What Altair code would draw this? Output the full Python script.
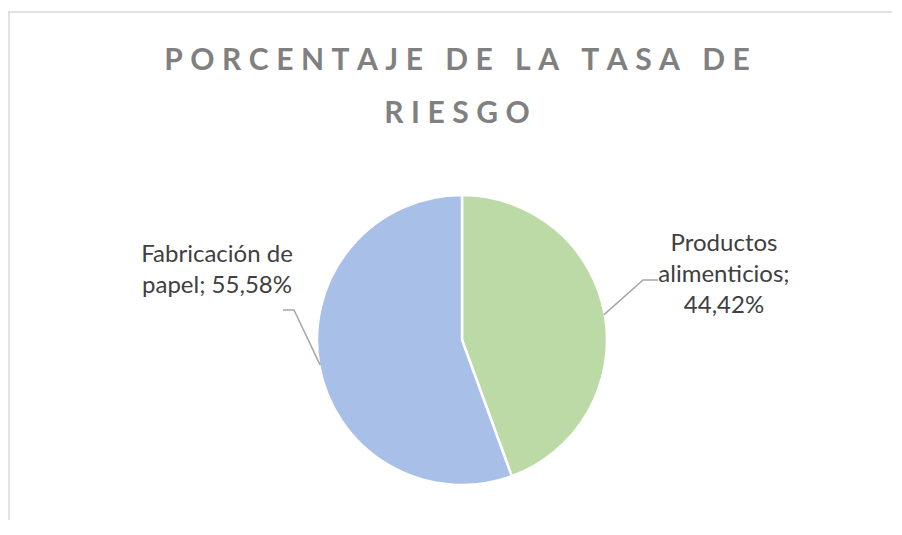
import math
import altair as alt
import pandas as pd

# ---------------- data ----------------
categories = ["Productos alimenticios", "Fabricación de papel"]
values = [44.42, 55.58]
label_wrap = [["Productos", "alimenticios;", "{pct}"], ["Fabricación de", "papel; {pct}"]]
title_lines = ["PORCENTAJE DE LA TASA DE", "RIESGO"]
slice_colors = ["#bbdaa6", "#a8bfe8"]

# ---------------- layout (pixels, plot coords) ----------------
W, H = 884, 512
CX, CY, R = 454, 332, 144
label_x = [716, 209]
label_y0 = [243, 254]
label_lh = 31
elbow = [(635, 272), (286, 302)]
leader_end = [(650, 272), (275, 302)]
title_x = 449
title_y = [62, 115]
SP = "\u2009\u200a\u200a"


def spaced(s):
    return SP.join(list(s))


def pct_text(v):
    return f"{v:.2f}".replace(".", ",") + "%"


# pie table
pie = pd.DataFrame({"cat": categories, "value": values, "order": list(range(len(categories)))})

# leader lines derived from slice mid-angles
total = sum(values)
cum = 0.0
lead_rows, lab_rows = [], []
for i, (c, v) in enumerate(zip(categories, values)):
    mid = (cum + v / 2) / total * 2 * math.pi
    cum += v
    sx, sy = CX + R * math.sin(mid), CY - R * math.cos(mid)
    pts = [(sx, sy), elbow[i], leader_end[i]]
    for k, (px, py) in enumerate(pts):
        lead_rows.append({"cat": c, "k": k, "x": px, "y": py})
    for j, line in enumerate(label_wrap[i]):
        lab_rows.append({"t": line.format(pct=pct_text(v)), "x": label_x[i], "y": label_y0[i] + j * label_lh})

leads = pd.DataFrame(lead_rows)
labs = pd.DataFrame(lab_rows)
titles = pd.DataFrame({"t": [spaced(s) for s in title_lines], "x": [title_x] * 2, "y": title_y})
frame = pd.DataFrame({"k": [0]})

xs = alt.Scale(domain=[0, W], range=[0, W], nice=False, zero=False)
ys = alt.Scale(domain=[0, H], range=[0, H], nice=False, zero=False)

arc = alt.Chart(pie).mark_arc(outerRadius=R + 1, stroke="white", strokeWidth=2.5).encode(
    theta=alt.Theta("value:Q", stack=True),
    color=alt.Color("cat:N", scale=alt.Scale(domain=categories, range=slice_colors), legend=None),
    order=alt.Order("order:Q"),
    x=alt.value(CX),
    y=alt.value(CY),
)

lines = alt.Chart(leads).mark_line(color="#a6a6a6", strokeWidth=1.5).encode(
    x=alt.X("x:Q", scale=xs, axis=None),
    y=alt.Y("y:Q", scale=ys, axis=None),
    detail="cat:N",
    order="k:Q",
)

labels = alt.Chart(labs).mark_text(
    font="Lato", fontSize=24, color="#404040", align="center", baseline="alphabetic"
).encode(x=alt.X("x:Q", scale=xs, axis=None), y=alt.Y("y:Q", scale=ys, axis=None), text="t:N")

title = alt.Chart(titles).mark_text(
    font="Lato", fontSize=30, fontWeight="bold", color="#808080", align="center", baseline="alphabetic"
).encode(x=alt.X("x:Q", scale=xs, axis=None), y=alt.Y("y:Q", scale=ys, axis=None), text="t:N")

border_top = alt.Chart(frame).mark_rect(color="#d9d9d9").encode(
    x=alt.value(0), x2=alt.value(W + 30), y=alt.value(3.25), y2=alt.value(4.75)
)
border_left = alt.Chart(frame).mark_rect(color="#d9d9d9").encode(
    x=alt.value(0.25), x2=alt.value(1.75), y=alt.value(3.25), y2=alt.value(H + 30)
)

chart = (
    alt.layer(border_top, border_left, arc, lines, labels, title)
    .properties(width=W, height=H, padding=0, autosize=alt.AutoSizeParams(type="none"))
    .configure_view(stroke=None, strokeWidth=0)
)

chart.save("out.html", embed_options={"renderer": "svg", "actions": False})
